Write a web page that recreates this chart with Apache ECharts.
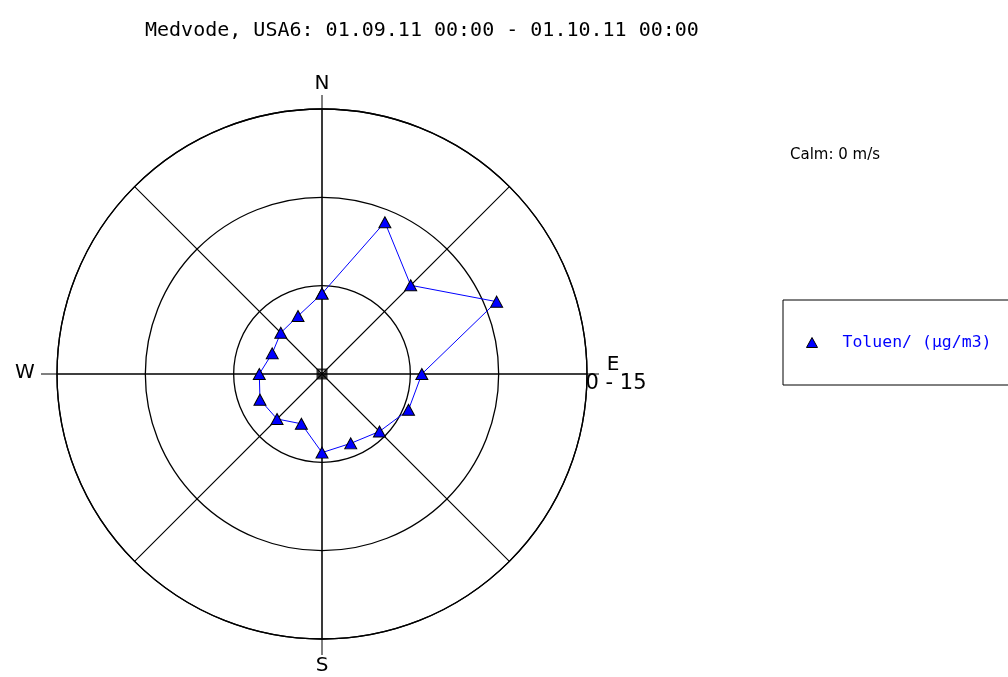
<!DOCTYPE html>
<html>
<head>
<meta charset="utf-8">
<script src="https://cdn.jsdelivr.net/npm/echarts@6/dist/echarts.min.js"></script>
<style>html,body{margin:0;padding:0;background:#fff;}#c{width:1008px;height:677px;}</style>
</head>
<body>
<div id="c"></div>
<script>
// ---- data ----
var titleText = 'Medvode, USA6: 01.09.11 00:00 - 01.10.11 00:00';
var seriesName = 'Toluen/ (µg/m3)';
var directions = ['N','NNE','NE','ENE','E','ESE','SE','SSE','S','SSW','SW','WSW','W','WNW','NW','NNW'];
var dirAngles = [0,22.5,45,67.5,90,112.5,135,157.5,180,202.5,225,247.5,270,292.5,315,337.5];
var values = [4.55, 9.3, 7.1, 10.7, 5.65, 5.3, 4.6, 4.25, 4.45, 3.05, 3.6, 3.8, 3.55, 3.05, 3.3, 3.55];
var calmValue = [0];
var calmText = 'Calm: 0 m/s';
var rangeText = '0 - 15';
var compassLabels = ['N','E','S','W'];
var radiusMax = 15;
var radiusStep = 5;

// ---- layout ----
var CX = 322, CY = 374, R = 265;

var pts = values.map(function (v, i) { return [v, dirAngles[i]]; });
pts.push(pts[0]);

var chart = echarts.init(document.getElementById('c'), null, {renderer: 'canvas'});
var mono = 'DejaVu Sans Mono';
var sans = 'DejaVu Sans';
chart.setOption({
  animation: false,
  backgroundColor: '#ffffff',
  title: {
    text: titleText,
    left: 145, top: 21, padding: 0,
    textStyle: {fontFamily: mono, fontSize: 20, fontWeight: 'normal', color: '#000'}
  },
  legend: {
    data: [seriesName],
    left: 783, top: 300,
    orient: 'vertical',
    padding: [34, 300, 34, 23],
    borderColor: '#000', borderWidth: 1,
    icon: 'triangle', itemWidth: 11, itemHeight: 10,
    itemStyle: {color: '#0000ff', borderColor: '#000', borderWidth: 1},
    textStyle: {fontFamily: mono, fontSize: 16.5, color: '#0000ff', padding: [0, 0, 0, 20], lineHeight: 16}
  },
  polar: {center: [CX, CY], radius: R},
  angleAxis: {
    type: 'value', min: 0, max: 360, interval: 45,
    startAngle: 90, clockwise: true,
    axisLine: {show: true, lineStyle: {color: '#000', width: 1.3}},
    axisTick: {show: false},
    axisLabel: {show: false},
    splitLine: {show: true, lineStyle: {color: '#000', width: 1.1}}
  },
  radiusAxis: {
    type: 'value', min: 0, max: radiusMax, interval: radiusStep,
    axisLine: {show: false}, axisTick: {show: false}, axisLabel: {show: false},
    splitLine: {show: true, lineStyle: {color: '#000', width: 1.3}}
  },
  series: [
    {
      name: seriesName, type: 'line', coordinateSystem: 'polar',
      data: pts,
      symbol: 'triangle', symbolSize: [12, 11],
      itemStyle: {color: '#0000ff', borderColor: '#000', borderWidth: 1},
      lineStyle: {color: '#0000ff', width: 1},
      z: 3
    },
    {
      name: 'calm', type: 'scatter', coordinateSystem: 'polar',
      data: calmValue.map(function (v) { return [v, 0]; }),
      symbol: 'path://M0,0H10V10H0Z M1.8,1.8L5,8L8.2,1.8Z',
      symbolSize: 11,
      itemStyle: {color: '#000'},
      z: 4
    }
  ],
  graphic: [
    {type: 'line', shape: {x1: CX, y1: CY - R - 14, x2: CX, y2: CY + R + 16}, style: {stroke: '#000', lineWidth: 1}, z: 1},
    {type: 'line', shape: {x1: CX - R - 16, y1: CY, x2: CX + R + 12, y2: CY}, style: {stroke: '#000', lineWidth: 1}, z: 1},
    {type: 'text', x: CX, y: 84, style: {text: compassLabels[0], font: '20px ' + sans, fill: '#000', align: 'center', verticalAlign: 'middle'}},
    {type: 'text', x: 613, y: 365, style: {text: compassLabels[1], font: '20px ' + sans, fill: '#000', align: 'center', verticalAlign: 'middle'}},
    {type: 'text', x: 616, y: 384, style: {text: rangeText, font: '21px ' + sans, fill: '#000', align: 'center', verticalAlign: 'middle'}},
    {type: 'text', x: CX, y: 666, style: {text: compassLabels[2], font: '20px ' + sans, fill: '#000', align: 'center', verticalAlign: 'middle'}},
    {type: 'text', x: 25, y: 373, style: {text: compassLabels[3], font: '20px ' + sans, fill: '#000', align: 'center', verticalAlign: 'middle'}},
    {type: 'text', x: 790, y: 155, style: {text: calmText, font: '15px ' + sans, fill: '#000', align: 'left', verticalAlign: 'middle'}}
  ]
});
</script>
</body>
</html>
